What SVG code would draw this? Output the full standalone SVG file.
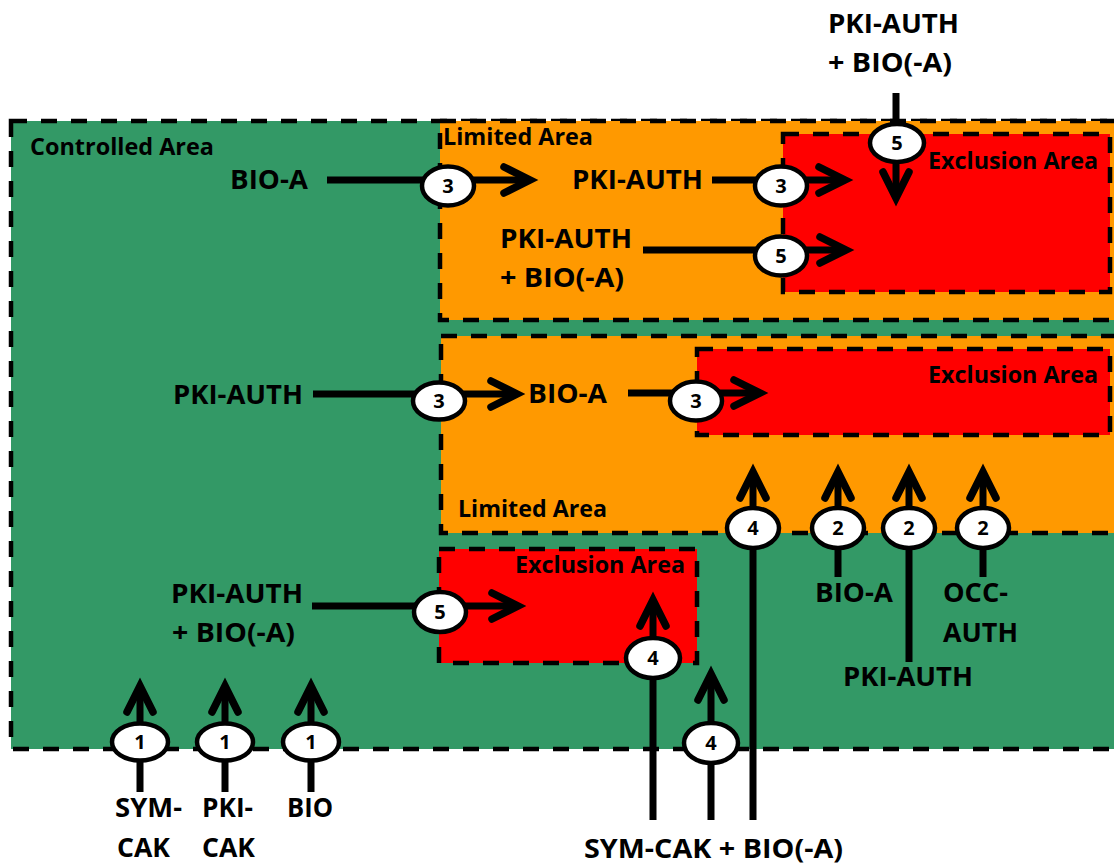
<svg xmlns="http://www.w3.org/2000/svg" width="1114" height="865" viewBox="0 0 1114 865">
<style>
.area{stroke:#000;stroke-width:4.5;stroke-dasharray:16 14;}
.ctrl{fill:#339966}
.lim{fill:#FF9900}
.exc{fill:#FF0000}
.alabel{font-family:"Open Sans","Liberation Sans",sans-serif;font-size:23px;font-weight:700;fill:#000}
.lbl{font-family:"Open Sans","Liberation Sans",sans-serif;font-size:27px;font-weight:700;fill:#000}
.conn{stroke:#000;stroke-width:7;fill:none;stroke-linecap:butt}
.arrow{marker-end:url(#ah)}
.badge ellipse{fill:#fff;stroke:#000;stroke-width:4.5}
.badge text{font-family:"Open Sans","Liberation Sans",sans-serif;font-size:20px;font-weight:700;text-anchor:middle;fill:#000}
</style>
<defs>
<marker id="ah" markerUnits="userSpaceOnUse" viewBox="-40 -20 60 40" refX="0" refY="0" markerWidth="60" markerHeight="40" orient="auto" overflow="visible">
<path d="M-26,-13 L0,0 L-26,13" fill="none" stroke="#000" stroke-width="7.5" stroke-linecap="round" stroke-linejoin="miter"/>
</marker>
</defs>
<rect x="0" y="0" width="1114" height="865" fill="#fff"/>

<g id="controlled-area">
<rect class="area ctrl" x="11" y="121" width="1120" height="628"/>
<text class="alabel" x="30" y="155" textLength="184" lengthAdjust="spacingAndGlyphs">Controlled Area</text>
</g>
<g id="limited-area-top">
<rect class="area lim" x="440" y="121" width="700" height="199"/>
<text class="alabel" x="443" y="145" textLength="150" lengthAdjust="spacingAndGlyphs">Limited Area</text>
</g>
<g id="exclusion-area-top">
<rect class="area exc" x="783" y="134" width="327" height="158"/>
<text class="alabel" x="928" y="169" textLength="170" lengthAdjust="spacingAndGlyphs">Exclusion Area</text>
</g>
<g id="limited-area-middle">
<rect class="area lim" x="441" y="336" width="700" height="197"/>
<text class="alabel" x="458" y="517" textLength="149" lengthAdjust="spacingAndGlyphs">Limited Area</text>
</g>
<g id="exclusion-area-middle">
<rect class="area exc" x="697" y="349" width="413" height="86"/>
<text class="alabel" x="928" y="383" textLength="170" lengthAdjust="spacingAndGlyphs">Exclusion Area</text>
</g>
<g id="exclusion-area-bottom">
<rect class="area exc" x="439" y="549" width="258" height="114"/>
<text class="alabel" x="515" y="573" textLength="170" lengthAdjust="spacingAndGlyphs">Exclusion Area</text>
</g>

<g id="connectors">
<path class="conn arrow" d="M327 180 H530"/>
<path class="conn arrow" d="M712 180 H845"/>
<path class="conn arrow" d="M643 250 H846"/>
<path class="conn arrow" d="M896 93 V198"/>
<path class="conn arrow" d="M313 394 H517"/>
<path class="conn arrow" d="M628 393 H760"/>
<path class="conn arrow" d="M753 820 V472"/>
<path class="conn arrow" d="M838 577 V472"/>
<path class="conn arrow" d="M909 662 V472"/>
<path class="conn arrow" d="M983 577 V472"/>
<path class="conn arrow" d="M312 606 H518"/>
<path class="conn arrow" d="M653 820 V600"/>
<path class="conn arrow" d="M711 820 V674"/>
<path class="conn arrow" d="M140 792 V686"/>
<path class="conn arrow" d="M225 792 V686"/>
<path class="conn arrow" d="M311 792 V686"/>
</g>

<g id="badges">
<g id="badge-3a" class="badge"><ellipse cx="448" cy="186" rx="26" ry="19.5"/><text x="448" y="193">3</text></g>
<g id="badge-3b" class="badge"><ellipse cx="781" cy="186" rx="26" ry="19.5"/><text x="781" y="193">3</text></g>
<g id="badge-5a" class="badge"><ellipse cx="781" cy="256" rx="26" ry="19.5"/><text x="781" y="263">5</text></g>
<g id="badge-5b" class="badge"><ellipse cx="897" cy="143" rx="27" ry="19"/><text x="897" y="150">5</text></g>
<g id="badge-3c" class="badge"><ellipse cx="439" cy="401" rx="26" ry="18.5"/><text x="439" y="408">3</text></g>
<g id="badge-3d" class="badge"><ellipse cx="696" cy="401" rx="26" ry="19.5"/><text x="696" y="408">3</text></g>
<g id="badge-4a" class="badge"><ellipse cx="753" cy="528" rx="26" ry="20"/><text x="753" y="535">4</text></g>
<g id="badge-2a" class="badge"><ellipse cx="838" cy="528" rx="26" ry="20"/><text x="838" y="535">2</text></g>
<g id="badge-2b" class="badge"><ellipse cx="909" cy="528" rx="26" ry="20"/><text x="909" y="535">2</text></g>
<g id="badge-2c" class="badge"><ellipse cx="983" cy="528" rx="26" ry="20"/><text x="983" y="535">2</text></g>
<g id="badge-5c" class="badge"><ellipse cx="440" cy="612" rx="26" ry="20"/><text x="440" y="619">5</text></g>
<g id="badge-4b" class="badge"><ellipse cx="653" cy="658" rx="27" ry="20"/><text x="653" y="665">4</text></g>
<g id="badge-4c" class="badge"><ellipse cx="711" cy="743" rx="27" ry="20"/><text x="711" y="750">4</text></g>
<g id="badge-1a" class="badge"><ellipse cx="140" cy="742" rx="28" ry="18.5"/><text x="140" y="749">1</text></g>
<g id="badge-1b" class="badge"><ellipse cx="225" cy="742" rx="28" ry="18.5"/><text x="225" y="749">1</text></g>
<g id="badge-1c" class="badge"><ellipse cx="311" cy="742" rx="28" ry="18.5"/><text x="311" y="749">1</text></g>
</g>

<g id="label-top-pki-bio">
<text class="lbl" x="828" y="33" textLength="131" lengthAdjust="spacingAndGlyphs">PKI-AUTH</text>
<text class="lbl" x="828" y="72" textLength="124" lengthAdjust="spacingAndGlyphs">+ BIO(-A)</text>
</g>
<g id="label-bio-a-top"><text class="lbl" x="230" y="189" textLength="78" lengthAdjust="spacingAndGlyphs">BIO-A</text></g>
<g id="label-pki-auth-top"><text class="lbl" x="572" y="189" textLength="131" lengthAdjust="spacingAndGlyphs">PKI-AUTH</text></g>
<g id="label-pki-bio-limited">
<text class="lbl" x="500" y="248" textLength="132" lengthAdjust="spacingAndGlyphs">PKI-AUTH</text>
<text class="lbl" x="500" y="287" textLength="124" lengthAdjust="spacingAndGlyphs">+ BIO(-A)</text>
</g>
<g id="label-pki-auth-mid"><text class="lbl" x="173" y="404" textLength="130" lengthAdjust="spacingAndGlyphs">PKI-AUTH</text></g>
<g id="label-bio-a-mid"><text class="lbl" x="528" y="403" textLength="79" lengthAdjust="spacingAndGlyphs">BIO-A</text></g>
<g id="label-pki-bio-bottom">
<text class="lbl" x="171" y="603" textLength="132" lengthAdjust="spacingAndGlyphs">PKI-AUTH</text>
<text class="lbl" x="172" y="642" textLength="123" lengthAdjust="spacingAndGlyphs">+ BIO(-A)</text>
</g>
<g id="label-bio-a-bottom"><text class="lbl" x="815" y="602" textLength="78" lengthAdjust="spacingAndGlyphs">BIO-A</text></g>
<g id="label-occ-auth">
<text class="lbl" x="943" y="602" textLength="65" lengthAdjust="spacingAndGlyphs">OCC-</text>
<text class="lbl" x="943" y="642" textLength="75" lengthAdjust="spacingAndGlyphs">AUTH</text>
</g>
<g id="label-pki-auth-bottom"><text class="lbl" x="843" y="686" textLength="130" lengthAdjust="spacingAndGlyphs">PKI-AUTH</text></g>
<g id="label-sym-cak">
<text class="lbl" x="115" y="817" textLength="67" lengthAdjust="spacingAndGlyphs">SYM-</text>
<text class="lbl" x="117" y="857" textLength="53" lengthAdjust="spacingAndGlyphs">CAK</text>
</g>
<g id="label-pki-cak">
<text class="lbl" x="202" y="817" textLength="51" lengthAdjust="spacingAndGlyphs">PKI-</text>
<text class="lbl" x="202" y="857" textLength="53" lengthAdjust="spacingAndGlyphs">CAK</text>
</g>
<g id="label-bio"><text class="lbl" x="287" y="817" textLength="46" lengthAdjust="spacingAndGlyphs">BIO</text></g>
<g id="label-sym-cak-bio"><text class="lbl" x="584" y="858" textLength="259" lengthAdjust="spacingAndGlyphs">SYM-CAK + BIO(-A)</text></g>
</svg>
